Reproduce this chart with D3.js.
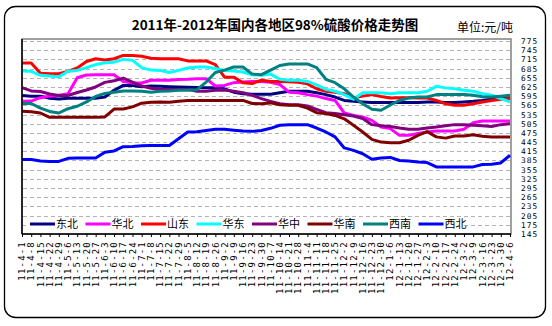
<!DOCTYPE html>
<html><head><meta charset="utf-8">
<script src="https://cdn.jsdelivr.net/npm/d3@7/dist/d3.min.js"></script>
<style>
html,body{margin:0;padding:0;background:#fff;}
svg{display:block;}
</style>
</head><body>
<svg id="chart" width="552" height="326"></svg>
<script>
const categories = ["11-4-1","11-4-8","11-4-15","11-4-22","11-4-29","11-5-6","11-5-13","11-5-20","11-5-27","11-6-3","11-6-10","11-6-17","11-6-24","11-7-1","11-7-8","11-7-15","11-7-22","11-7-29","11-8-5","11-8-12","11-8-19","11-8-26","11-9-2","11-9-9","11-9-16","11-9-23","11-9-30","11-10-7","11-10-14","11-10-21","11-10-28","11-11-4","11-11-11","11-11-18","11-11-25","11-12-2","11-12-9","11-12-16","11-12-23","11-12-30","12-1-6","12-1-13","12-1-20","12-1-27","12-2-3","12-2-10","12-2-17","12-2-24","12-3-2","12-3-9","12-3-16","12-3-23","12-3-30","12-4-6"];
const seriesNames = ["东北","华北","山东","华东","华中","华南","西南","西北"];
const seriesColors = ["#000080","#FF00FF","#FF0000","#00FFFF","#800080","#800000","#008080","#0000FF"];
const yTicks = [145,175,205,235,265,295,325,355,385,415,445,475,505,535,565,595,625,655,685,715,745,775];

const dongbei = [597,595,595,588,586,588,588,588,588,592,614,630,630,626,628,627,626,625,624,623,622,622,619,608,603,601,601,601,606,611,611,611,606,600,592,581,578,576,574,574,574,574,574,574,576,576,574,574,576,578,581,585,587,590];
const huabei = [578,579,590,595,598,603,655,664,665,665,665,643,638,638,647,647,647,649,650,652,652,628,630,639,641,643,643,640,633,608,606,600,595,587,581,540,532,527,516,494,489,467,467,473,478,481,481,481,487,508,514,514,514,514];
const shandong = [703,703,670,668,668,676,687,708,717,713,717,728,728,725,719,717,717,717,710,710,710,698,657,657,639,636,647,643,643,642,640,635,619,611,608,603,590,595,600,594,589,590,590,589,589,581,570,565,565,570,576,581,585,587];
const huadong = [677,676,663,661,658,676,679,688,698,704,706,715,712,688,680,679,672,679,687,690,690,685,679,677,674,665,663,667,650,647,647,643,632,617,611,600,585,606,606,606,603,606,606,606,611,627,622,619,614,611,603,598,587,576];
const huazhong = [623,612,610,602,597,597,607,615,625,640,645,654,641,628,621,617,617,617,617,611,611,614,615,611,606,598,587,578,570,567,567,563,552,541,538,534,530,522,502,498,496,491,487,487,491,494,498,502,502,500,498,496,502,505];
const huanan = [546,544,540,526,526,526,526,526,526,527,553,553,560,572,575,576,575,578,581,581,581,581,581,581,581,571,570,573,567,565,565,556,541,538,532,521,500,478,454,445,443,443,451,467,479,462,458,465,465,469,464,462,462,462];
const xinan = [571,571,556,545,540,554,562,576,594,604,608,612,612,611,608,611,612,614,614,616,641,672,680,690,690,667,665,680,695,700,700,700,688,650,639,619,592,570,552,549,566,581,589,592,592,600,600,600,600,598,593,592,595,598];
const xibei = [388,388,383,382,382,392,393,393,393,412,416,430,431,433,434,434,434,456,478,479,483,487,487,484,481,480,483,490,500,502,502,502,491,478,462,426,418,407,389,393,395,385,383,380,378,364,364,364,364,364,372,373,377,402];

const seriesValues = [dongbei, huabei, shandong, huadong, huazhong, huanan, xinan, xibei];

const svg = d3.select("#chart");
const plotL = 22, plotR = 511, plotT = 39, plotB = 234;

// outer rounded frame
svg.append("rect").attr("x",4.5).attr("y",6.5).attr("width",541).attr("height",311)
  .attr("rx",11).attr("ry",11).attr("fill","#fff").attr("stroke","#000").attr("stroke-width",1.3);

const x = d3.scalePoint().domain(categories).range([plotL, 510]);
const y = d3.scaleLinear().domain([145, 775]).range([plotB, 41]);

// plot frame (gray top/right)
svg.append("rect").attr("x",plotL).attr("y",plotT).attr("width",plotR-plotL).attr("height",plotB-plotT)
  .attr("fill","#fff").attr("stroke","#808080").attr("stroke-width",1.5);

// gridlines
svg.append("g").selectAll("line").data(yTicks.filter(v=>v>145)).join("line")
  .attr("x1",plotL+1).attr("x2",plotR-1)
  .attr("y1",d=>Math.round(y(d))+0.5).attr("y2",d=>Math.round(y(d))+0.5)
  .attr("stroke","#b4b4b4").attr("stroke-width",1).attr("stroke-dasharray","4,3");

// title
svg.append("text").attr("x",275).attr("y",30).attr("text-anchor","middle")
  .attr("font-family","'Noto Sans CJK SC', sans-serif").attr("font-weight","bold")
  .attr("font-size","13.5px").attr("fill","#000")
  .text("2011年-2012年国内各地区98%硫酸价格走势图");
svg.append("text").attr("x",457).attr("y",32)
  .attr("font-family","'Noto Sans CJK SC', sans-serif")
  .attr("font-size","12px").attr("fill","#000")
  .text("单位:元/吨");

// right y axis labels
const yAxis = d3.axisRight(y).tickValues(yTicks).tickSize(0).tickPadding(10);
const yg = svg.append("g").attr("transform",`translate(${plotR},0)`).call(yAxis);
yg.select(".domain").remove();
yg.selectAll("text").attr("font-family","'DejaVu Sans Mono', monospace").attr("font-size","7.8px")
  .attr("letter-spacing","1.1px").attr("fill","#000");

// lines
const line = d3.line().x((d,i)=>x(categories[i])).y(d=>y(d));
seriesValues.forEach((vals,k)=>{
  svg.append("path").datum(vals).attr("d",line).attr("fill","none")
    .attr("stroke",seriesColors[k]).attr("stroke-width",3).attr("stroke-linejoin","round");
});

// legend
const lg = svg.append("g");
lg.append("rect").attr("x",26).attr("y",217).attr("width",436).attr("height",14).attr("fill","#fff");
seriesNames.forEach((name,k)=>{
  const x0 = 30 + k*55.5;
  lg.append("line").attr("x1",x0).attr("x2",x0+25).attr("y1",224).attr("y2",224)
    .attr("stroke",seriesColors[k]).attr("stroke-width",3);
  lg.append("text").attr("x",x0+26).attr("y",224).attr("dy","0.36em")
    .attr("font-family","'Noto Sans CJK SC', sans-serif").attr("font-size","11px").attr("fill","#000")
    .text(name);
});

// bottom x axis
const xAxis = d3.axisBottom(x).tickSize(3).tickPadding(0).tickFormat(()=> "");
const xg = svg.append("g").attr("transform",`translate(0,${plotB})`).call(xAxis);
xg.select(".domain").attr("d",`M${plotL},0H${plotR}`).attr("stroke","#000").attr("stroke-width",1.5);
xg.selectAll(".tick line").attr("stroke","#000");

// left axis line
svg.append("line").attr("x1",plotL).attr("x2",plotL).attr("y1",plotT).attr("y2",plotB)
  .attr("stroke","#000").attr("stroke-width",1.5);

// rotated x labels
svg.append("g").selectAll("text").data(categories).join("text")
  .attr("transform",d=>`translate(${x(d)},241) rotate(-90)`)
  .attr("text-anchor","end").attr("dy","0.35em")
  .attr("font-family","'DejaVu Sans Mono', monospace").attr("font-size","9px")
  .attr("letter-spacing","1.2px").attr("fill","#000")
  .text(d=>d);
</script>
</body></html>
